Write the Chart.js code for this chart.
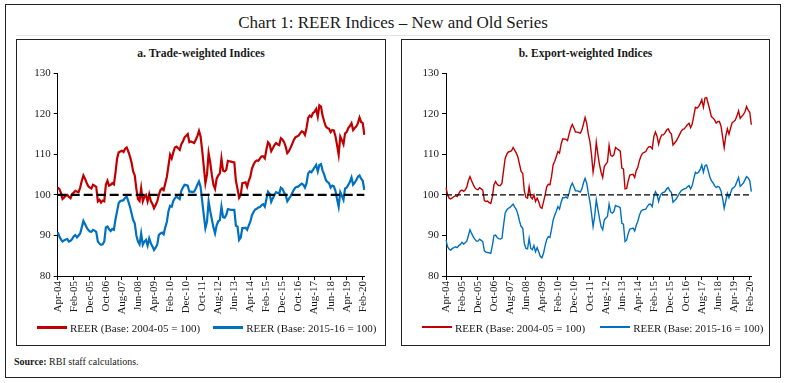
<!DOCTYPE html>
<html><head><meta charset="utf-8">
<script src="https://cdn.jsdelivr.net/npm/chart.js@4.4.0/dist/chart.umd.min.js"></script>
<style>
html,body{margin:0;padding:0;background:#fff;}
body{width:786px;height:383px;position:relative;overflow:hidden;font-family:"Liberation Serif",serif;color:#1a1a1a;}
.outer{position:absolute;left:5px;top:4px;width:776px;height:374px;border:1.5px solid #222;box-sizing:border-box;}
.title{position:absolute;left:0;width:786px;top:12px;text-align:center;font-size:17px;line-height:22px;color:#1a1a1a;}
.rule{position:absolute;left:16px;width:754px;top:35px;height:0;border-top:1px solid #e4e4e4;}
.panel{position:absolute;top:38.5px;height:307px;border:1.3px solid #222;box-sizing:border-box;}
.sub{position:absolute;top:46px;text-align:center;font-weight:bold;font-size:11.6px;line-height:16px;}
.cv{position:absolute;top:60px;height:260px;}
.leg{position:absolute;top:319px;height:16px;font-size:11px;line-height:16px;white-space:nowrap;}
.leg span.sw{display:inline-block;vertical-align:middle;width:30px;height:0;margin-right:3px;position:relative;top:-1px;}
.leg span.tx{vertical-align:middle;}
.src{position:absolute;left:14px;top:355px;font-size:10px;line-height:14px;}
</style>
</head><body>
<div class="outer"></div>
<div class="title">Chart 1: REER Indices – New and Old Series</div>
<div class="rule"></div>
<div class="panel" style="left:16px;width:370px;"></div>
<div class="panel" style="left:401px;width:369px;"></div>
<div class="sub" style="left:16px;width:370px;">a. Trade-weighted Indices</div>
<div class="sub" style="left:401px;width:369px;">b. Export-weighted Indices</div>
<canvas id="c1" class="cv" style="left:17px;width:360px;" width="360" height="260"></canvas>
<canvas id="c2" class="cv" style="left:402px;width:362px;" width="362" height="260"></canvas>
<div class="leg" id="leg1" style="left:37px;"></div>
<div class="leg" id="leg2" style="left:422px;"></div>
<div class="src"><b>Source:</b> RBI staff calculations.</div>
<script>
// ---- data ----
const startYear = 2004, startMonth = 3, monthCount = 192; // Apr-04 .. Mar-20
const monthNames = ['Jan','Feb','Mar','Apr','May','Jun','Jul','Aug','Sep','Oct','Nov','Dec'];
const tickEvery = 10;
const seriesNames = ['REER (Base: 2004-05 = 100)', 'REER (Base: 2015-16 = 100)'];
const refLevel = 100;

const tradeOld = [101.8,101.5,100.5,99.0,99.4,99.8,100.0,99.5,99.2,100.2,100.6,101.0,100.8,100.7,101.8,103.5,104.8,104.0,103.0,102.2,
101.8,101.6,102.5,102.3,102.0,98.4,98.8,98.1,98.6,98.4,102.5,103.5,102.3,102.5,102.9,102.6,105.5,109.0,110.5,110.7,
110.9,110.6,111.4,111.7,110.7,109.5,108.0,105.8,104.8,101.5,99.0,98.5,101.6,98.4,99.5,100.0,98.4,100.2,98.5,97.8,
96.7,97.5,98.4,100.0,101.2,101.6,101.2,102.8,104.5,107.2,109.9,109.0,110.5,111.7,111.9,111.5,111.1,112.5,113.2,114.2,
114.6,115.0,113.0,113.2,113.0,112.8,113.6,114.5,115.8,114.4,111.0,107.0,102.9,105.0,110.3,108.0,105.0,102.5,101.5,104.0,
104.8,105.3,109.0,106.0,105.8,106.2,108.4,108.3,108.2,108.1,108.0,103.5,101.5,99.3,100.0,102.9,103.0,103.1,102.0,103.5,
104.5,106.5,107.5,108.2,108.5,108.4,109.0,109.5,109.5,109.0,111.2,113.0,112.5,110.8,111.5,112.3,112.8,112.5,112.3,114.0,
113.7,113.0,111.9,110.3,110.8,111.6,112.5,113.5,114.2,114.4,114.6,115.2,115.7,115.5,114.8,116.5,119.0,119.6,119.3,120.2,
120.5,121.2,119.3,122.1,121.8,119.5,118.1,116.9,116.5,116.3,115.5,116.0,115.9,114.5,112.3,109.9,114.4,113.5,112.5,115.2,
115.5,116.5,117.0,117.7,116.0,116.5,116.9,117.7,119.1,118.0,117.7,114.8];

const tradeNew = [90.8,89.8,89.0,88.5,88.8,89.0,89.1,88.5,88.7,89.1,89.8,90.1,89.5,90.0,90.5,92.0,93.6,92.8,92.0,91.4,
91.0,90.9,91.4,91.2,90.9,88.5,88.0,87.7,87.8,88.5,92.0,92.2,91.5,91.1,91.6,91.4,94.0,96.0,98.0,98.5,
98.6,98.7,99.3,99.6,98.4,97.1,95.5,93.8,93.0,90.0,88.5,87.8,90.5,87.7,88.5,88.9,87.5,89.3,88.1,87.3,
86.4,87.0,87.8,90.1,90.5,90.7,90.3,92.0,93.4,96.0,97.3,97.1,98.5,99.2,99.6,99.3,99.0,101.0,101.8,102.5,
102.4,102.3,100.8,100.8,100.7,100.8,101.6,102.5,103.3,102.0,98.5,95.0,91.8,93.4,98.4,96.0,94.0,92.0,90.5,92.5,
93.5,93.8,97.1,94.5,94.4,95.1,96.5,96.4,96.3,96.3,96.3,92.4,92.2,88.9,89.5,91.8,91.8,91.9,91.4,92.5,
93.4,95.0,95.8,96.4,96.6,96.9,97.0,97.5,97.7,97.1,99.0,100.8,100.3,98.3,99.2,100.0,100.7,100.5,100.4,101.8,
101.5,100.6,100.0,98.4,99.0,99.6,100.4,101.2,101.8,102.0,102.1,102.5,102.8,102.5,101.8,102.9,105.3,105.8,105.6,106.2,
106.8,107.4,105.8,107.4,107.6,106.0,105.0,103.7,103.2,102.9,101.8,102.3,102.1,101.0,99.0,97.1,100.7,99.8,98.8,101.6,
101.8,102.5,103.2,104.3,102.5,103.0,103.7,104.5,104.8,104.0,103.5,101.2];

const exportOld = [101.8,100.0,99.2,99.0,99.3,99.6,99.8,99.6,100.3,101.0,101.2,100.9,101.2,101.9,103.5,104.5,103.5,102.6,101.8,101.4,
101.3,101.8,101.5,101.2,98.6,98.4,98.5,98.1,97.9,99.5,102.5,103.3,102.6,102.3,102.3,102.9,106.0,109.0,110.0,110.6,
110.7,110.9,111.7,111.0,110.3,109.3,107.5,105.8,105.3,101.0,99.4,99.2,102.0,99.5,99.0,100.0,98.4,99.2,98.3,97.0,
96.7,98.3,100.0,102.0,102.6,102.5,104.5,107.4,108.3,109.5,110.7,110.3,112.5,113.8,113.8,113.7,113.4,115.0,116.5,117.4,
116.5,115.5,115.5,115.4,115.2,116.0,117.5,119.1,117.7,115.0,113.2,110.0,105.6,108.2,113.0,110.0,107.5,105.6,104.3,107.0,
107.6,108.1,112.2,109.8,109.5,109.9,111.7,111.4,111.1,110.8,106.6,106.4,101.5,101.6,103.5,104.9,105.0,105.1,104.3,106.0,
106.8,108.5,109.6,110.3,110.5,110.7,111.5,111.9,111.9,111.4,114.4,115.5,114.5,112.5,114.0,114.8,114.8,115.3,116.0,116.3,
115.5,115.0,112.3,112.8,113.3,114.0,114.8,115.6,116.2,116.3,116.8,117.3,117.7,116.6,117.5,119.5,121.6,121.4,121.8,122.5,
123.5,121.6,123.9,124.0,122.5,121.0,119.3,119.0,118.5,117.7,118.1,118.1,117.0,114.4,111.7,114.5,116.3,115.0,116.5,117.8,
118.1,118.5,119.5,120.7,118.9,119.4,119.8,120.5,121.8,120.9,120.4,117.3];

const exportNew = [88.9,87.2,86.6,86.4,86.8,87.0,87.2,87.0,87.5,87.8,88.3,87.9,88.2,88.6,90.0,91.4,90.5,89.7,89.1,88.6,
88.6,89.1,88.8,88.5,86.2,85.9,85.8,85.7,85.6,87.5,90.0,90.1,89.5,89.2,89.1,89.3,92.5,95.5,96.3,96.7,
96.9,97.3,97.7,97.0,96.4,95.2,93.5,92.2,91.8,88.0,86.8,86.7,89.3,86.8,86.5,87.5,86.0,87.0,86.0,84.8,
84.5,85.6,87.5,89.0,89.7,89.5,91.5,93.8,95.0,96.0,97.1,96.5,98.2,99.3,99.3,99.5,99.2,100.5,102.1,102.9,
102.0,101.0,101.0,100.9,100.7,101.5,103.0,104.1,102.9,100.5,98.4,95.5,92.2,94.7,98.8,96.5,94.2,92.2,91.4,93.8,
94.3,94.7,97.7,95.8,95.5,95.9,97.4,97.2,97.1,96.8,93.0,92.8,88.5,88.9,90.5,91.6,91.7,91.8,91.1,92.5,
93.5,95.0,96.0,96.3,96.4,96.5,97.2,97.7,97.7,97.1,99.6,100.8,100.1,98.4,99.8,100.4,100.6,100.8,101.5,101.8,
101.0,100.6,98.2,98.6,99.0,99.7,100.4,101.0,101.3,101.5,101.6,102.0,102.3,101.5,102.3,104.0,105.6,105.3,105.6,106.3,
107.4,105.6,107.2,107.4,106.0,104.5,103.5,103.0,102.3,101.8,102.1,101.9,101.0,99.2,96.7,98.5,100.4,99.3,100.5,101.6,
101.8,102.3,103.3,104.3,102.1,102.5,102.9,103.7,104.5,104.2,103.5,100.8];

const colors = {old:'#C00000', nw:'#0070C0'};

// categories
const months = [];
for (let k = 0; k < monthCount; k++) {
  const m = (startMonth + k) % 12;
  const y = startYear + Math.floor((startMonth + k) / 12);
  months.push(monthNames[m] + '-' + String(y % 100).padStart(2, '0'));
}

const refLinePlugin = {
  id: 'refLine',
  afterDatasetsDraw(chart, args, opts) {
    const y = chart.scales.y.getPixelForValue(refLevel);
    const a = chart.chartArea;
    const ctx = chart.ctx;
    ctx.save();
    ctx.beginPath();
    ctx.setLineDash(opts.dash);
    ctx.lineWidth = opts.width;
    ctx.strokeStyle = '#000';
    ctx.moveTo(a.left, y);
    ctx.lineTo(a.right, y);
    ctx.stroke();
    ctx.restore();
  }
};

function makeChart(id, oldData, newData, lw, dash, dashW, yAxisW, padRight) {
  const tickFont = {family: '"Liberation Serif", serif', size: 11};
  return new Chart(document.getElementById(id), {
    type: 'line',
    data: {
      labels: months,
      datasets: [
        {label: seriesNames[0], data: oldData, borderColor: colors.old, backgroundColor: colors.old, borderWidth: lw, pointRadius: 0, tension: 0, fill: false},
        {label: seriesNames[1], data: newData, borderColor: colors.nw, backgroundColor: colors.nw, borderWidth: lw, pointRadius: 0, tension: 0, fill: false}
      ]
    },
    plugins: [refLinePlugin],
    options: {
      responsive: false,
      animation: false,
      devicePixelRatio: 1,
      layout: {padding: {left: 0, top: 13.3, right: padRight, bottom: 0}},
      plugins: {legend: {display: false}, tooltip: {enabled: false}, title: {display: false},
        refLine: {dash: dash, width: dashW}},
      scales: {
        x: {
          type: 'category',
          offset: false,
          afterFit(s) { s.height = 44; },
          grid: {display: true, drawOnChartArea: false, drawTicks: true, tickLength: 4, color: '#000', lineWidth: 1},
          border: {display: true, color: '#000', width: 1},
          ticks: {
            autoSkip: false, maxRotation: 90, minRotation: 90, padding: 1,
            color: '#1a1a1a', font: tickFont,
            callback: function(v, i) { return i % tickEvery === 0 ? this.getLabelForValue(v) : null; }
          }
        },
        y: {
          min: 80, max: 130,
          afterFit(s) { s.width = yAxisW; },
          grid: {display: true, drawOnChartArea: false, drawTicks: true, tickLength: 4, color: '#000', lineWidth: 1},
          border: {display: true, color: '#000', width: 1},
          ticks: {stepSize: 10, padding: 3, color: '#1a1a1a', font: tickFont}
        }
      }
    }
  });
}

makeChart('c1', tradeOld, tradeNew, 2.2, [9, 4], 2.4, 40.7, 11.5);
makeChart('c2', exportOld, exportNew, 1.4, [6, 3], 1.3, 44, 8);

function makeLegend(id, lineH, gap) {
  const el = document.getElementById(id);
  const cols = [colors.old, colors.nw];
  el.innerHTML = seriesNames.map((n, k) =>
    '<span class="sw" style="border-top:' + lineH + 'px solid ' + cols[k] + ';"></span>' +
    '<span class="tx">' + n + '</span>').join('<span style="display:inline-block;width:' + gap + 'px"></span>');
}
makeLegend('leg1', 3, 13);
makeLegend('leg2', 2, 15);
</script>
</body></html>
